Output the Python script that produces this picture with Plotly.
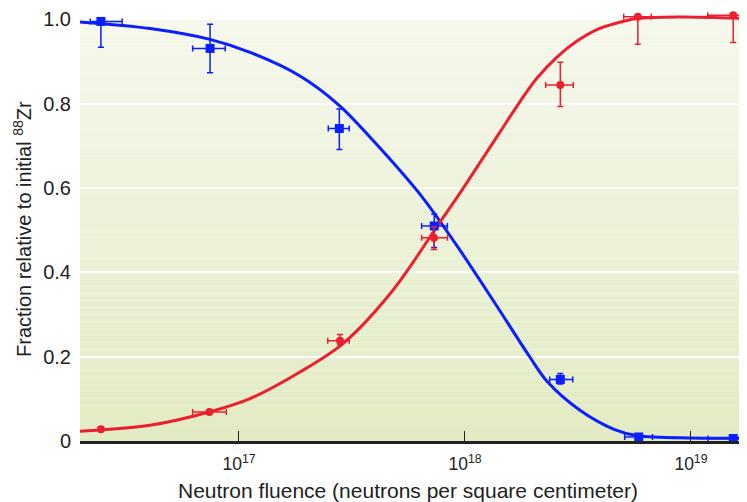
import plotly.graph_objects as go

# ---------------- data ----------------
# 88Zr (blue squares)
zr88_x = [2.449e16, 7.447e16, 2.780e17, 7.31e17, 2.642e18, 5.875e18, 1.538e19]
zr88_xlo = [2.198e16, 6.237e16, 2.483e17, 6.43e17, 2.371e18, 5.09e18, 1.19e19]
zr88_xhi = [3.041e16, 8.690e16, 3.076e17, 8.36e17, 3.00e18, 6.76e18, 1.95e19]
zr88_y = [0.995, 0.931, 0.741, 0.510, 0.146, 0.0095, 0.006]
zr88_ylo = [0.934, 0.873, 0.691, 0.459, 0.135, 0.0095, 0.006]
zr88_yhi = [0.998, 0.988, 0.787, 0.538, 0.160, 0.0095, 0.006]

# 89Zr (red circles)
zr89_x = [2.449e16, 7.396e16, 2.800e17, 7.29e17, 2.642e18, 5.82e18, 1.538e19]
zr89_xlo = [2.449e16, 6.237e16, 2.470e17, 6.43e17, 2.275e18, 5.04e18, 1.186e19]
zr89_xhi = [2.449e16, 8.790e16, 3.076e17, 8.37e17, 3.013e18, 6.67e18, 1.95e19]
zr89_y = [0.028, 0.069, 0.238, 0.482, 0.844, 1.006, 1.0095]
zr89_ylo = [0.028, 0.069, 0.228, 0.454, 0.7935, 0.941, 0.945]
zr89_yhi = [0.028, 0.069, 0.2525, 0.508, 0.898, 1.008, 1.011]

# fitted curves
fit88_x = [1.98e16, 4.04e16, 7.44e16, 1.119e17, 1.862e17, 2.798e17, 4.207e17, 6.52e17,
           9.50e17, 1.385e18, 1.940e18, 2.306e18, 3.228e18, 4.564e18, 5.83e18,
           1.0e19, 1.77e19]
fit88_y = [0.9936, 0.978, 0.9523, 0.9215, 0.8655, 0.7943, 0.6946, 0.576,
           0.4525, 0.3196, 0.1986, 0.1417, 0.0729, 0.0278, 0.0123,
           0.0071, 0.0069]
fit89_x = [1.98e16, 4.04e16, 7.37e16, 1.119e17, 1.862e17, 2.885e17, 4.80e17, 7.75e17,
           9.50e17, 1.428e18, 1.699e18, 2.083e18, 2.553e18, 3.131e18, 3.838e18,
           4.706e18, 5.77e18, 8.94e18, 1.77e19]
fit89_y = [0.023, 0.0373, 0.0688, 0.1006, 0.1637, 0.2311, 0.3576, 0.519,
           0.5878, 0.7326, 0.7943, 0.8607, 0.9105, 0.9485, 0.9758,
           0.9912, 1.0019, 1.0055, 1.0019]

x_tickvals = [1e17, 1e18, 1e19]
x_ticktext = ["10<sup>17</sup>", "10<sup>18</sup>", "10<sup>19</sup>"]
y_tickvals = [0, 0.2, 0.4, 0.6, 0.8, 1.0]
y_ticktext = ["0", "0.2", "0.4", "0.6", "0.8", "1.0"]

BLUE = "#0a1eff"
RED = "#ec1f2e"
FONT = "Liberation Sans, Arial, sans-serif"
TXT = "#222222"

def diff(a, b):
    return [max(p - q, 0) for p, q in zip(a, b)]

fig = go.Figure()

# background gradient bands (0 .. 1.0)
n = 60
top = (246, 248, 236)
bot = (226, 235, 195)
for i in range(n):
    t = (i + 0.5) / n
    c = tuple(round(bot[k] + (top[k] - bot[k]) * t) for k in range(3))
    fig.add_shape(type="rect", xref="paper", yref="y", x0=0, x1=1,
                  y0=i / n, y1=(i + 1) / n, layer="below",
                  line=dict(width=0), fillcolor="rgb(%d,%d,%d)" % c)

fig.add_trace(go.Scatter(x=fit88_x, y=fit88_y, mode="lines",
                         line=dict(color=BLUE, width=3, shape="spline", smoothing=0.9),
                         hoverinfo="skip", showlegend=False))
fig.add_trace(go.Scatter(x=fit89_x, y=fit89_y, mode="lines",
                         line=dict(color=RED, width=3, shape="spline", smoothing=0.9),
                         hoverinfo="skip", showlegend=False))

fig.add_trace(go.Scatter(
    x=zr88_x, y=zr88_y, mode="markers",
    marker=dict(symbol="square", size=9, color=BLUE),
    error_x=dict(type="data", symmetric=False, array=diff(zr88_xhi, zr88_x),
                 arrayminus=diff(zr88_x, zr88_xlo), color=BLUE, thickness=1.5, width=3),
    error_y=dict(type="data", symmetric=False, array=diff(zr88_yhi, zr88_y),
                 arrayminus=diff(zr88_y, zr88_ylo), color=BLUE, thickness=1.5, width=3),
    showlegend=False))
fig.add_trace(go.Scatter(
    x=zr89_x, y=zr89_y, mode="markers",
    marker=dict(symbol="circle", size=8, color=RED),
    error_x=dict(type="data", symmetric=False, array=diff(zr89_xhi, zr89_x),
                 arrayminus=diff(zr89_x, zr89_xlo), color=RED, thickness=1.5, width=3),
    error_y=dict(type="data", symmetric=False, array=diff(zr89_yhi, zr89_y),
                 arrayminus=diff(zr89_y, zr89_ylo), color=RED, thickness=1.5, width=3),
    showlegend=False))

# page has an 8px body margin: figure is 739x494 so it fits the 747x502 window
fig.update_layout(
    width=739, height=494,
    margin=dict(l=72, r=0, t=0, b=61),
    paper_bgcolor="white", plot_bgcolor="white",
    font=dict(family=FONT, size=17, color=TXT),
    showlegend=False,
)
fig.update_xaxes(
    type="log", range=[16.2965, 19.248], automargin=False,
    tickvals=x_tickvals, ticktext=x_ticktext,
    ticks="inside", ticklen=10, tickwidth=1, tickcolor=TXT,
    showline=True, linewidth=3, linecolor=TXT,
    showgrid=False, zeroline=False, ticklabelstandoff=5,
    tickfont=dict(size=17.5, color=TXT),
)
fig.update_yaxes(
    range=[0, 1.0268], automargin=False,
    tickvals=y_tickvals, ticktext=y_ticktext,
    ticks="", showline=False, zeroline=False,
    showgrid=True, gridcolor="white", gridwidth=1.5,
    ticklabelstandoff=8,
    tickfont=dict(size=20, color=TXT),
)

# axis titles (positions in screen px: plot spans x 80..747, y 8..441)
PW, PH = 667, 433
fig.add_annotation(text="Neutron fluence (neutrons per square centimeter)",
                   xref="paper", yref="paper", x=(408 - 80) / PW, y=-(490 - 441) / PH,
                   xanchor="center", yanchor="middle", showarrow=False,
                   font=dict(size=21, color=TXT))
fig.add_annotation(text="Fraction relative to initial <sup>88</sup>Zr",
                   xref="paper", yref="paper", x=-(80 - 22) / PW, y=(441 - 229) / PH,
                   xanchor="center", yanchor="middle", showarrow=False, textangle=-90,
                   font=dict(size=20, color=TXT))

fig.write_html("out.html")
